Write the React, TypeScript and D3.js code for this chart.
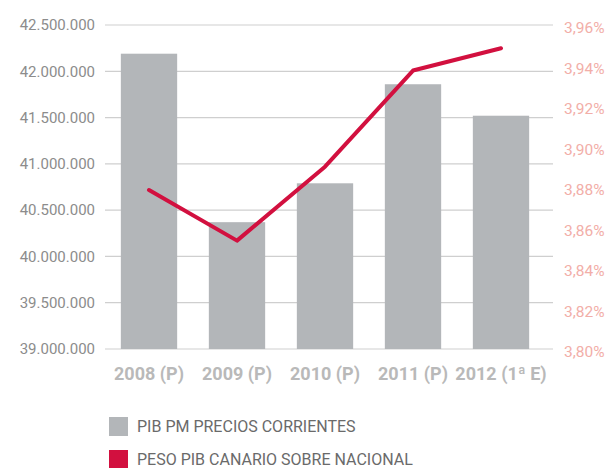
import React from 'react';
import {scaleLinear, scaleBand, line} from 'd3';

const years = ['2008 (P)', '2009 (P)', '2010 (P)', '2011 (P)', '2012 (1ª E)'];
const pib = [42190000, 40370000, 40790000, 41860000, 41520000];
const peso = [3.88, 3.855, 3.8915, 3.939, 3.95];
const leftTicks = [39000000, 39500000, 40000000, 40500000, 41000000, 41500000, 42000000, 42500000];
const rightTicks = [3.80, 3.82, 3.84, 3.86, 3.88, 3.90, 3.92, 3.94, 3.96];
const legendNames = ['PIB PM PRECIOS CORRIENTES', 'PESO PIB CANARIO SOBRE NACIONAL'];

const fmtLeft = (v: number) => v.toLocaleString('de-DE');
const fmtRight = (v: number) => v.toFixed(2).replace('.', ',') + '%';

const App = (): JSX.Element => {
    const font = 'Roboto, "DejaVu Sans", sans-serif';
    const x = scaleBand().domain(years).range([105, 545]).paddingInner(0.36).paddingOuter(0.18);
    const yL = scaleLinear().domain([39000000, 42500000]).range([349, 25]);
    const yR = scaleLinear().domain([3.80, 3.96]).range([352, 28]);

    const cx = (d: string) => (x(d) as number) + x.bandwidth() / 2;
    const myLine = line<number>()
        .x((_, i) => cx(years[i]))
        .y((v) => yR(v));

    return (
        <svg width={609} height={468} style={{position: 'absolute', left: 0, top: 0}} fontFamily={font}>
            <rect width={609} height={468} fill="#fff" />
            {leftTicks.map((t) => (
                <g key={t}>
                    <line x1={105} x2={553} y1={yL(t)} y2={yL(t)} stroke="#cfcfcf" strokeWidth={1.2} />
                    <text x={95} y={yL(t)} dy="0.35em" textAnchor="end" fontSize={15} fill="#8c8c8c">{fmtLeft(t)}</text>
                </g>
            ))}
            {rightTicks.map((t) => (
                <text key={t} x={564} y={yR(t)} dy="0.35em" fontSize={15.5} fill="#f2aea8">{fmtRight(t)}</text>
            ))}
            {pib.map((v, i) => (
                <rect key={years[i]} x={x(years[i])} y={yL(v)} width={x.bandwidth()} height={349 - yL(v)} fill="#b3b6b9" />
            ))}
            <path d={myLine(peso) || ''} fill="none" stroke="#d2103f" strokeWidth={4} strokeLinecap="round" strokeLinejoin="round" />
            {years.map((d) => (
                <text key={d} x={cx(d)} y={374} dy="0.35em" textAnchor="middle" fontSize={18} fontWeight="bold" fill="#b9b9b9">{d}</text>
            ))}
            <rect x={109} y={417} width={19} height={19} fill="#b3b6b9" />
            <text x={137} y={426.5} dy="0.35em" fontSize={16} fill="#6a6a6a">{legendNames[0]}</text>
            <rect x={109} y={450} width={19} height={19} fill="#d2103f" />
            <text x={137} y={459.5} dy="0.35em" fontSize={16} fill="#6a6a6a">{legendNames[1]}</text>
        </svg>
    );
};

export default App;
